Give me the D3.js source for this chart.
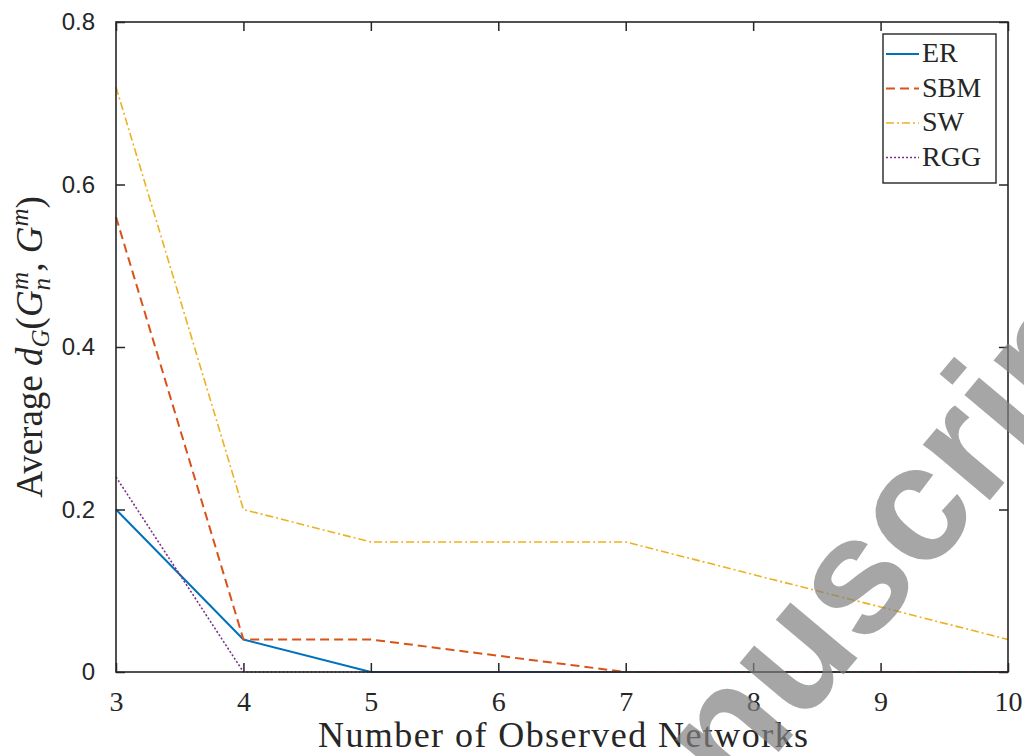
<!DOCTYPE html>
<html>
<head>
<meta charset="utf-8">
<script src="https://cdn.jsdelivr.net/npm/d3@7"></script>
<style>
  body { margin: 0; background: #fff; }
  svg { display: block; }
</style>
</head>
<body>
<div id="chart"></div>
<script>
// data
const networks = [3, 4, 5, 6, 7, 8, 9, 10];
const er  = [0.20, 0.04, 0.00, 0.00, 0.00, 0.00, 0.00, 0.00];
const sbm = [0.56, 0.04, 0.04, 0.02, 0.00, 0.00, 0.00, 0.00];
const sw  = [0.72, 0.20, 0.16, 0.16, 0.16, 0.12, 0.08, 0.04];
const rgg = [0.24, 0.00, 0.00, 0.00, 0.00, 0.00, 0.00, 0.00];
const seriesNames = ["ER", "SBM", "SW", "RGG"];
const yTicks = [0, 0.2, 0.4, 0.6, 0.8];

const width = 1024;
const height = 756;
const margin = {top: 22, right: 16, bottom: 84, left: 116};

const x = d3.scaleLinear()
    .domain([3, 10])
    .range([margin.left, width - margin.right]);

const y = d3.scaleLinear()
    .domain([0, 0.8])
    .range([height - margin.bottom, margin.top]);

const svg = d3.select('#chart').append('svg')
    .attr('width', width)
    .attr('height', height);

const serif = "'Liberation Serif', 'DejaVu Serif', serif";
const sans = "'Liberation Sans', Arial, sans-serif";

// series drawn first, box and ticks on top
const styles = [
    {data: er,  color: "#0072BD", dash: null,      w: 2},
    {data: sbm, color: "#D95319", dash: "9,5",     w: 2},
    {data: sw,  color: "#EDB120", dash: "8,3,2,3", w: 1.6},
    {data: rgg, color: "#7E2F8E", dash: "2,2",     w: 1.6}
];

const line = d3.line()
    .x((d, i) => x(networks[i]))
    .y(d => y(d));

styles.forEach(s => {
    svg.append('path')
        .datum(s.data)
        .attr('fill', 'none')
        .attr('stroke', s.color)
        .attr('stroke-width', s.w)
        .attr('stroke-dasharray', s.dash)
        .attr('stroke-linejoin', 'round')
        .attr('d', line);
});

// axes, ticks pointing inward
const xAxis = g => g
    .attr('transform', `translate(0,${height - margin.bottom})`)
    .call(d3.axisBottom(x).tickValues(networks).tickFormat(d3.format('d'))
        .tickSizeInner(-9).tickSizeOuter(0).tickPadding(19))
    .call(g => g.select('.domain').remove())
    .call(g => g.selectAll('text').style('font-family', serif).style('font-size', '28px').attr('fill', '#262626'));

const xTop = g => g
    .attr('transform', `translate(0,${margin.top})`)
    .call(d3.axisTop(x).tickValues(networks).tickFormat('')
        .tickSizeInner(-9).tickSizeOuter(0))
    .call(g => g.select('.domain').remove());

const yAxis = g => g
    .attr('transform', `translate(${margin.left},0)`)
    .call(d3.axisLeft(y).tickValues(yTicks).tickFormat(d => d === 0 ? '0' : d3.format('.1f')(d))
        .tickSizeInner(-9).tickSizeOuter(0).tickPadding(21))
    .call(g => g.select('.domain').remove())
    .call(g => g.selectAll('text').style('font-family', sans).style('font-size', '24px').attr('fill', '#262626'));

const yRight = g => g
    .attr('transform', `translate(${width - margin.right},0)`)
    .call(d3.axisRight(y).tickValues(yTicks).tickFormat('')
        .tickSizeInner(-9).tickSizeOuter(0))
    .call(g => g.select('.domain').remove());

svg.append('g').call(xAxis);
svg.append('g').call(xTop);
svg.append('g').call(yAxis);
svg.append('g').call(yRight);
svg.selectAll('.tick line').attr('stroke', '#262626').attr('stroke-width', 1.5);

svg.append('rect')
    .attr('x', x(3)).attr('y', y(0.8))
    .attr('width', x(10) - x(3)).attr('height', y(0) - y(0.8))
    .attr('fill', 'none').attr('stroke', '#262626').attr('stroke-width', 1.6);

// axis titles
svg.append('text')
    .attr('x', 318)
    .attr('y', 747)
    .attr('textLength', 490)
    .attr('lengthAdjust', 'spacing')
    .attr('font-family', serif)
    .attr('font-size', 36)
    .attr('fill', '#262626')
    .text('Number of Observed Networks');

const yl = svg.append('text')
    .attr('transform', `translate(42,${(y(0) + y(0.8)) / 2}) rotate(-90)`)
    .attr('text-anchor', 'middle')
    .attr('font-family', serif)
    .attr('font-size', 37)
    .attr('fill', '#262626');
yl.append('tspan').text('Average ');
yl.append('tspan').attr('font-style', 'italic').text('d');
yl.append('tspan').attr('font-style', 'italic').attr('font-size', 25).attr('dy', 7).text('G');
yl.append('tspan').attr('dy', -7).text('(');
yl.append('tspan').attr('font-style', 'italic').text('G');
yl.append('tspan').attr('font-style', 'italic').attr('font-size', 25).attr('dy', 8).text('n');
yl.append('tspan').attr('font-style', 'italic').attr('font-size', 25).attr('dx', -12).attr('dy', -22).text('m');
yl.append('tspan').attr('dy', 14).text(', ');
yl.append('tspan').attr('font-style', 'italic').text('G');
yl.append('tspan').attr('font-style', 'italic').attr('font-size', 25).attr('dy', -14).text('m');
yl.append('tspan').attr('dy', 14).text(')');

// legend
const legend = svg.append('g').attr('transform', 'translate(883,34)');
legend.append('rect')
    .attr('width', 113).attr('height', 149)
    .attr('fill', '#fff').attr('stroke', '#262626').attr('stroke-width', 1.4);
seriesNames.forEach((name, i) => {
    const row = legend.append('g').attr('transform', `translate(0,${28 + i * 34.5})`);
    row.append('line')
        .attr('x1', 3).attr('x2', 36).attr('y1', -8).attr('y2', -8)
        .attr('stroke', styles[i].color)
        .attr('stroke-width', styles[i].w)
        .attr('stroke-dasharray', styles[i].dash);
    row.append('text')
        .attr('x', 39)
        .attr('font-family', serif)
        .attr('font-size', 28)
        .attr('fill', '#262626')
        .text(name);
});

// watermark across the lower right, cut by the edges as in the figure
const F = 165;
const deg = -50;
const ang = deg * Math.PI / 180;
const ox = 735 - 1.389 * F * Math.cos(ang);
const oy = 804 - 1.389 * F * Math.sin(ang);
svg.append('text')
    .attr('transform', `translate(${ox},${oy}) rotate(${deg})`)
    .attr('font-family', sans)
    .attr('font-weight', 'bold')
    .attr('font-size', F)
    .attr('fill', '#808080')
    .attr('fill-opacity', 0.7)
    .text('Manuscript');
</script>
</body>
</html>
